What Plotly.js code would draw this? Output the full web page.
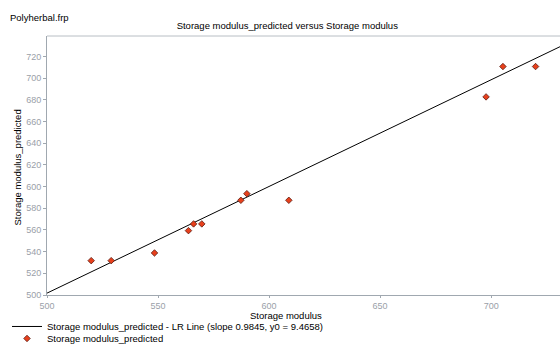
<!DOCTYPE html>
<html>
<head>
<meta charset="utf-8">
<script src="https://cdn.plot.ly/plotly-3.0.1.min.js"></script>
<style>html,body{margin:0;padding:0;background:#fff;}#chart{width:560px;height:345px;}</style>
</head>
<body>
<div id="chart"></div>
<script>
const storageModulus = [519.9, 528.9, 548.4, 563.7, 566.0, 569.7, 587.3, 590.0, 608.9, 697.7, 705.3, 720.0];
const storagePredicted = [531.7, 531.7, 538.8, 559.4, 565.6, 565.6, 587.4, 593.5, 587.4, 682.8, 710.8, 710.8];
// Regression line parameters (from legend)
const lrSlope = 0.9845;
const lrIntercept = 9.4658;
const lrX = [500, 731];
const lrY = lrX.map(v => lrSlope * v + lrIntercept);
const xTicks = [500, 550, 600, 650, 700];
const yTicks = [500, 520, 540, 560, 580, 600, 620, 640, 660, 680, 700, 720];

const FONT = '"Liberation Sans", Arial, sans-serif';
const FS = 9.5;

const traces = [
  {
    x: lrX, y: lrY, mode: 'lines', type: 'scatter',
    name: 'Storage modulus_predicted - LR Line (slope 0.9845, y0 = 9.4658)',
    line: {color: '#000000', width: 1},
    legend: 'legend'
  },
  {
    x: storageModulus, y: storagePredicted, mode: 'markers', type: 'scatter',
    name: 'Storage modulus_predicted',
    marker: {symbol: 'diamond', size: 5, color: '#e8401c', line: {color: '#5a1a10', width: 0.8}},
    legend: 'legend2'
  }
];

const legendCommon = {
  xref: 'container', yref: 'container', xanchor: 'left', yanchor: 'top', orientation: 'v',
  font: {family: FONT, size: FS, color: '#000'}, itemwidth: 30, bgcolor: 'rgba(0,0,0,0)', borderwidth: 0
};

const layout = {
  width: 560, height: 345,
  margin: {l: 47, r: 0, t: 36, b: 50, pad: 0, autoexpand: false},
  paper_bgcolor: '#ffffff', plot_bgcolor: '#ffffff',
  font: {family: FONT, size: FS, color: '#000'},
  title: {text: 'Storage modulus_predicted versus Storage modulus', font: {family: FONT, size: FS, color: '#000'},
          x: 0.513, xanchor: 'center', y: 0.925, yanchor: 'middle', yref: 'container'},
  showlegend: true,
  legend: Object.assign({x: 0.0125, y: 0.0957}, legendCommon),
  legend2: Object.assign({x: 0.0125, y: 0.061}, legendCommon),
  xaxis: {
    range: [500, 731], tickvals: xTicks, ticktext: xTicks.map(String),
    showgrid: false, zeroline: false, showline: true, linecolor: '#a0a8b0', linewidth: 1,
    ticks: 'outside', ticklen: 2, tickcolor: '#a0a8b0',
    tickfont: {family: FONT, size: 9, color: '#9aa0a8'},
    automargin: false
  },
  yaxis: {
    range: [500, 739], tickvals: yTicks, ticktext: yTicks.map(String),
    showgrid: false, zeroline: false, showline: true, linecolor: '#a0a8b0', linewidth: 1,
    ticks: 'outside', ticklen: 3, tickcolor: '#a0a8b0',
    tickfont: {family: FONT, size: 9, color: '#9aa0a8'},
    automargin: false
  },
  shapes: [
    {type: 'line', xref: 'paper', yref: 'paper', x0: 0, x1: 1, y0: 1, y1: 1, line: {color: '#b8bec4', width: 1}}
  ],
  annotations: [
    {text: 'Polyherbal.frp', xref: 'paper', yref: 'paper', x: -0.076, y: 1.0, yshift: 19, xanchor: 'left', yanchor: 'middle',
     showarrow: false, font: {family: FONT, size: FS, color: '#000'}},
    {text: 'Storage modulus', xref: 'paper', yref: 'paper', x: 0.465, y: 0, yshift: -20.5, xanchor: 'center', yanchor: 'middle',
     borderpad: 0, showarrow: false, font: {family: FONT, size: FS, color: '#000'}},
    {text: 'Storage modulus_predicted', xref: 'paper', yref: 'paper', x: 0, xshift: -30, y: 0.5, yshift: -2, textangle: -90,
     xanchor: 'center', yanchor: 'middle', showarrow: false, font: {family: FONT, size: FS, color: '#000'}}
  ]
};

Plotly.newPlot('chart', traces, layout, {displayModeBar: false, staticPlot: true});
</script>
</body>
</html>
